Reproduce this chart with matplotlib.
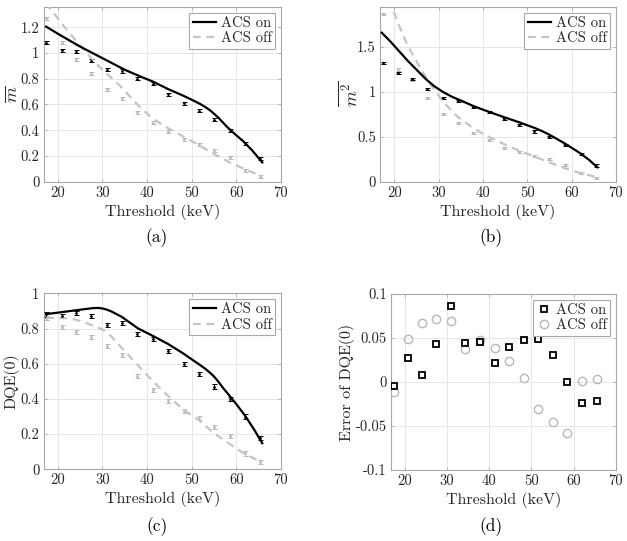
import matplotlib
matplotlib.use("Agg")
import matplotlib.pyplot as plt
from matplotlib.ticker import FuncFormatter

plt.rcParams['font.family'] = ['cmr10', 'DejaVu Serif']
plt.rcParams['mathtext.fontset'] = 'cm'
plt.rcParams['axes.unicode_minus'] = False
plt.rcParams['axes.formatter.use_mathtext'] = False

# ---------------- data ----------------
thresholds = [17.4, 20.9, 24.1, 27.5, 31.0, 34.4, 37.8, 41.3, 44.7, 48.2, 51.6, 55.0, 58.5, 62.0, 65.4]

# (a) mean m
m_on_pts = [1.08, 1.02, 1.01, 0.94, 0.87, 0.86, 0.80, 0.76, 0.68, 0.61, 0.55, 0.48, 0.40, 0.30, 0.18]
m_off_pts = [1.27, 1.08, 0.95, 0.84, 0.72, 0.65, 0.54, 0.46, 0.39, 0.33, 0.29, 0.24, 0.19, 0.09, 0.04]
m_on_curve_x = [17.4, 20, 25, 30, 35, 38, 41.3, 44.7, 48, 50.3, 52, 53, 54.1, 55, 56, 57.8, 60, 61.5, 63.5, 65.8]
m_on_curve_y = [1.205, 1.15, 1.05, 0.96, 0.87, 0.825, 0.778, 0.72, 0.67, 0.632, 0.602, 0.581, 0.555, 0.528, 0.497, 0.43, 0.36, 0.316, 0.245, 0.15]
m_off_curve_x = [17.4, 17.75, 20, 22, 24.9, 28, 30, 33.8, 38.3, 41.3, 44.7, 48.2, 51.6, 55, 58.5, 62, 65.8]
m_off_curve_y = [1.39, 1.37, 1.27, 1.18, 1.063, 0.94, 0.87, 0.75, 0.583, 0.49, 0.415, 0.35, 0.285, 0.215, 0.15, 0.096, 0.04]

# (b) mean m^2
m2_on_pts = [1.32, 1.21, 1.14, 1.03, 0.93, 0.90, 0.83, 0.78, 0.70, 0.63, 0.56, 0.50, 0.41, 0.31, 0.18]
m2_off_pts = [1.87, 1.25, 1.13, 0.93, 0.75, 0.65, 0.54, 0.46, 0.38, 0.33, 0.29, 0.25, 0.19, 0.10, 0.04]
m2_on_curve_x = [17.2, 19, 21, 23, 25, 27, 29, 31, 33, 35, 38, 41, 44.7, 48, 51.6, 53.5, 55, 57, 58.5, 60, 62, 64, 65.8]
m2_on_curve_y = [1.66, 1.57, 1.46, 1.35, 1.25, 1.15, 1.065, 1.0, 0.947, 0.905, 0.84, 0.785, 0.72, 0.665, 0.60, 0.56, 0.523, 0.467, 0.425, 0.378, 0.315, 0.24, 0.16]
m2_off_curve_x = [17.4, 19.5, 21, 23, 25.5, 27.5, 30, 31, 34.4, 38, 41.3, 44.7, 48.2, 51.6, 55, 58.5, 62, 65.8]
m2_off_curve_y = [2.3, 1.95, 1.75, 1.52, 1.30, 1.13, 0.96, 0.89, 0.72, 0.59, 0.50, 0.42, 0.345, 0.28, 0.215, 0.15, 0.095, 0.05]

# (c) DQE(0)
dqe_on_pts = [0.88, 0.87, 0.89, 0.87, 0.82, 0.83, 0.77, 0.74, 0.67, 0.60, 0.54, 0.47, 0.40, 0.30, 0.18]
dqe_off_pts = [0.86, 0.81, 0.78, 0.75, 0.70, 0.65, 0.53, 0.45, 0.39, 0.33, 0.29, 0.24, 0.19, 0.09, 0.04]
dqe_on_curve_x = [17.4, 20, 23, 26, 28, 29, 30, 31, 32, 33, 34.4, 36, 38, 41.3, 44.7, 48, 51.6, 53, 54, 55, 56, 57, 58.5, 60, 62, 64, 65.8]
dqe_on_curve_y = [0.882, 0.89, 0.9, 0.91, 0.916, 0.917, 0.914, 0.907, 0.897, 0.884, 0.865, 0.836, 0.80, 0.758, 0.712, 0.66, 0.597, 0.572, 0.551, 0.527, 0.497, 0.463, 0.417, 0.37, 0.303, 0.225, 0.148]
dqe_off_curve_x = [17.4, 20, 22, 24, 26, 28, 30, 32, 34.4, 38, 41.3, 44.7, 48.2, 51.6, 55, 58.5, 62, 65.8]
dqe_off_curve_y = [0.86, 0.86, 0.858, 0.85, 0.835, 0.815, 0.795, 0.755, 0.687, 0.59, 0.50, 0.417, 0.337, 0.28, 0.205, 0.144, 0.085, 0.04]

# (d) error of DQE(0)
err_on = [-0.005, 0.027, 0.008, 0.043, 0.086, 0.044, 0.046, 0.022, 0.040, 0.048, 0.049, 0.031, 0.000, -0.024, -0.022]
err_off = [-0.011, 0.049, 0.067, 0.072, 0.069, 0.037, 0.048, 0.039, 0.024, 0.005, -0.031, -0.046, -0.058, 0.001, 0.003]

errbar = 0.012

# ---------------- figure ----------------
W, H = 627, 541
fig = plt.figure(figsize=(W / 100, H / 100), dpi=100)

def rect(l, t, r, b):
    return [l / W, 1 - b / H, (r - l) / W, (b - t) / H]

grey_line = '#c4c4c4'
grey_pt = '#b8b8b8'
spine_c = '#a8a8a8'
text_c = '#262626'

def style(ax, ylim, yticks, ylabel, ylabel_size=11.5, ylabel_x=None):
    ax.set_xlim(16.8, 70)
    ax.set_ylim(*ylim)
    ax.set_xticks([20, 30, 40, 50, 60, 70])
    ax.set_yticks(yticks)
    ax.xaxis.set_major_formatter(FuncFormatter(lambda v, p: '%g' % v))
    ax.yaxis.set_major_formatter(FuncFormatter(lambda v, p: '%g' % round(v, 4)))
    ax.grid(True, color='#e6e6e6', linewidth=0.7)
    ax.set_axisbelow(True)
    for s in ax.spines.values():
        s.set_color(spine_c)
        s.set_linewidth(0.8)
    ax.tick_params(direction='in', length=2.5, width=0.6, color=spine_c,
                   labelsize=10.5, labelcolor=text_c, pad=3, top=True, right=True)
    ax.set_xlabel('Threshold (keV)', fontsize=11.5, color=text_c, labelpad=3)
    ax.set_ylabel(ylabel, fontsize=ylabel_size, color=text_c)
    if ylabel_x is not None:
        ax.yaxis.set_label_coords(ylabel_x, 0.5, transform=fig.transFigure)

def add_legend(ax, hl):
    leg = ax.legend(loc='upper right', fontsize=10.5, frameon=True, fancybox=False,
                    handlelength=hl, handletextpad=0.3, borderpad=0.25,
                    labelspacing=0.1, borderaxespad=0.4, framealpha=1)
    leg.get_frame().set_edgecolor(spine_c)
    leg.get_frame().set_linewidth(0.8)
    for t in leg.get_texts():
        t.set_color(text_c)

def plot_curve_panel(ax, on_x, on_y, off_x, off_y, on_pts, off_pts):
    ax.errorbar(thresholds, off_pts, yerr=errbar, fmt='.', color=grey_pt, ms=2,
                capsize=1.8, elinewidth=0.7, capthick=0.7, zorder=2)
    ax.errorbar(thresholds, on_pts, yerr=errbar, fmt='.', color='black', ms=2,
                capsize=1.8, elinewidth=0.7, capthick=0.7, zorder=3)
    ax.plot(on_x, on_y, color='black', lw=1.6, label='ACS on', zorder=4)
    ax.plot(off_x, off_y, color=grey_line, lw=1.6, ls=(0, (3.5, 2.5)), label='ACS off', zorder=3)
    add_legend(ax, 1.6)

# (a)
axa = fig.add_axes(rect(43.5, 6.7, 281, 181.7))
plot_curve_panel(axa, m_on_curve_x, m_on_curve_y, m_off_curve_x, m_off_curve_y, m_on_pts, m_off_pts)
style(axa, (0, 1.36), [0, 0.2, 0.4, 0.6, 0.8, 1.0, 1.2], r'$\overline{m}$', 13)
axa.yaxis.set_label_coords(0.0, 0, transform=fig.transFigure)
axa.yaxis.label.set_position((12 / W, 1 - 94 / H))

# (b)
axb = fig.add_axes(rect(380, 6.7, 616, 181.7))
plot_curve_panel(axb, m2_on_curve_x, m2_on_curve_y, m2_off_curve_x, m2_off_curve_y, m2_on_pts, m2_off_pts)
style(axb, (0, 1.95), [0, 0.5, 1.0, 1.5], r'$\overline{m^2}$', 13)
axb.yaxis.label.set_position((350 / W, 1 - 94 / H))

# (c)
axc = fig.add_axes(rect(43.5, 293.3, 281, 469.3))
plot_curve_panel(axc, dqe_on_curve_x, dqe_on_curve_y, dqe_off_curve_x, dqe_off_curve_y, dqe_on_pts, dqe_off_pts)
style(axc, (0, 1.0), [0, 0.2, 0.4, 0.6, 0.8, 1.0], 'DQE(0)', 11.5)
axc.yaxis.label.set_position((12 / W, 1 - 381 / H))

# (d)
axd = fig.add_axes(rect(391, 294, 616, 470))
axd.plot(thresholds, err_on, ls='none', marker='s', ms=4.2, mfc='none', mec='black', mew=1.3, label='ACS on', zorder=3)
axd.plot(thresholds, err_off, ls='none', marker='o', ms=6, mfc='none', mec=grey_pt, mew=1.0, label='ACS off', zorder=2)
style(axd, (-0.1, 0.1), [-0.1, -0.05, 0, 0.05, 0.1], 'Error of DQE(0)', 11.5)
axd.yaxis.label.set_position((347 / W, 1 - 382 / H))
add_legend(axd, 1.0)

for ax in (axa, axb, axc, axd):
    ax.yaxis.label.set_transform(fig.transFigure)
    ax.yaxis.label.set_ha('center')
    ax.yaxis.label.set_va('center')
    ax.yaxis.set_label_coords(*ax.yaxis.label.get_position(), transform=fig.transFigure)

# panel labels
for lbl, x, y in [('(a)', 157, 238), ('(b)', 491, 238), ('(c)', 157, 527), ('(d)', 491, 527)]:
    fig.text(x / W, 1 - y / H, lbl, ha='center', va='center', fontsize=12.5, color='black')

fig.savefig('out.png', dpi=100)
